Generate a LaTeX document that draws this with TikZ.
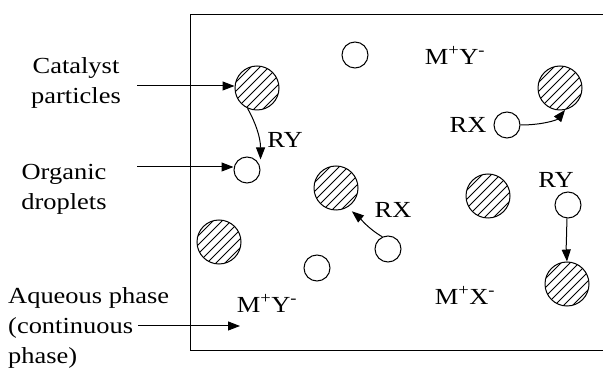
\documentclass[tikz,border=0pt]{standalone}
\usepackage{fontspec}
\setmainfont{Liberation Serif}[FakeStretch=1.15]
\usetikzlibrary{arrows.meta}
\begin{document}
\begin{tikzpicture}[x=1pt,y=-1pt,
  cat/.style={circle,draw,line width=1pt,minimum size=44pt,inner sep=0pt,
    path picture={\foreach \i in {-45,-36,...,45}{\draw[line width=1pt]
      ([xshift={\i*1pt-30pt},yshift=-30pt]path picture bounding box.center) -- ++(60pt,60pt);}}},
  drop/.style={circle,draw,line width=1pt,minimum size=26pt,inner sep=0pt},
  lbl/.style={font=\fontsize{23}{30}\selectfont,inner sep=0pt},
  arr/.style={line width=1pt,-{Triangle[length=12pt,width=9pt]}}]
\useasboundingbox (0,0) rectangle (603,371);
\clip (0,0) rectangle (603,371);
% frame
\draw[line width=1pt] (620,15) -- (190,15) -- (190,351) -- (620,351);
% catalyst particles
\node[cat] (c1) at (257,88) {};
\node[cat] (c2) at (560,88) {};
\node[cat] (c3) at (336,188) {};
\node[cat] (c4) at (488,196) {};
\node[cat] (c5) at (219,242) {};
\node[cat] (c6) at (567,284) {};
% organic droplets
\node[drop] (d1) at (247,170) {};
\node[drop] (d2) at (355,55) {};
\node[drop] (d3) at (507,125) {};
\node[drop] (d4) at (568,205) {};
\node[drop] (d5) at (388,249) {};
\node[drop] (d6) at (317,268) {};
% labels inside
\node[lbl] (t1) at (455,55) {M\textsuperscript{+}Y\textsuperscript{-}};
\node[lbl] (t2) at (267,303) {M\textsuperscript{+}Y\textsuperscript{-}};
\node[lbl] (t3) at (465,295) {M\textsuperscript{+}X\textsuperscript{-}};
\node[lbl] (t4) at (285,140) {RY};
\node[lbl] (t5) at (556,180) {RY};
\node[lbl] (t6) at (393,210) {RX};
\node[lbl] (t7) at (468,125) {RX};
% left labels
\node[lbl,align=center] (l1) at (76,83) {Catalyst\\particles};
\node[lbl,align=center] (l2) at (64,189) {Organic\\droplets};
\node[lbl,align=left,anchor=north west] (l3) at (8,287) {Aqueous phase\\(continuous\\phase)};
\coordinate (a1) at (137,86);
\coordinate (a2) at (137,167);
\coordinate (a3) at (138,326);
\coordinate (a4) at (240,326);
\draw[arr] (a1) -- (c1.west |- a1);
\draw[arr] (a2) -- (d1.west |- a2);
\draw[arr] (a3) -- (a4);
% reaction arrows
\draw[arr] (c1.245) .. controls +(8,14) and +(0,-22) .. ([shift={(4pt,1pt)}]d1.north east);
\draw[arr] (d3.east) .. controls +(22,0) and +(-8,10) .. (c2.283);
\draw[arr,shorten >=6pt] (d5.115) .. controls +(-14,-8) and +(12,10) .. (c3.-60);
\draw[arr] (d4.265) .. controls +(0,16) and +(-1,-16) .. (c6.north);
\end{tikzpicture}
\end{document}
